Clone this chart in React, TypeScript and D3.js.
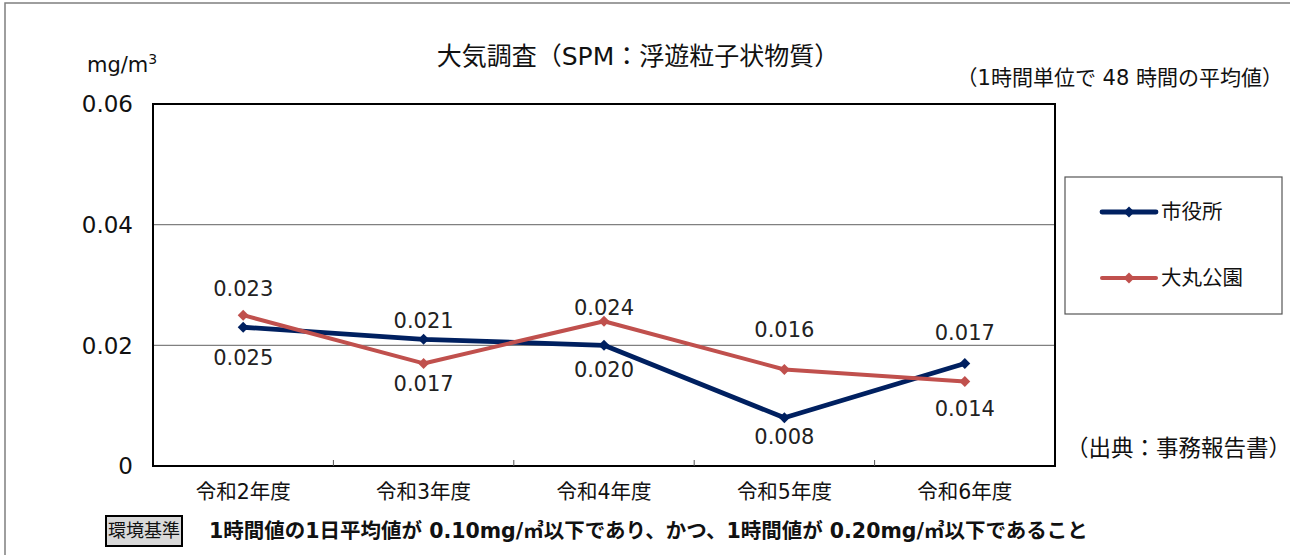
import React, { useRef, useEffect } from 'react';
import * as d3 from 'd3';

const categories = ['令和2年度', '令和3年度', '令和4年度', '令和5年度', '令和6年度'];
const cityHall = [0.023, 0.021, 0.020, 0.008, 0.017];
const omaruPark = [0.025, 0.017, 0.024, 0.016, 0.014];
const yTicks = [0, 0.02, 0.04, 0.06];
const seriesNames = ['市役所', '大丸公園'];

// label offsets (px) as placed in the original chart
const cityHallLabelDy = [-39, -19, 24, 19, -31];
const omaruParkLabelDy = [42, 20, -14, -40, 27];

const W = 1290;
const H = 555;
const FONT = '"DejaVu Sans", "Noto Sans CJK JP", sans-serif';
const CJK = '"Noto Sans CJK JP", sans-serif';

const App: React.FC = () => {
    const ref = useRef<SVGSVGElement>(null);

    useEffect(() => {
        if (!ref.current) return;
        const svg = d3.select(ref.current);
        svg.selectAll('*').remove();

        const m = { left: 153, right: 1055, top: 104, bottom: 466 };

        // outer frame
        svg.append('rect')
            .attr('x', 5).attr('y', 3)
            .attr('width', W + 20).attr('height', H + 20)
            .attr('fill', '#fff')
            .attr('stroke', '#7f7f7f')
            .attr('stroke-width', 1.5);

        const x = d3.scaleBand<string>()
            .domain(categories)
            .range([m.left, m.right]);

        const y = d3.scaleLinear()
            .domain([0, 0.06])
            .range([m.bottom, m.top]);

        const cx = (c: string) => (x(c) ?? 0) + x.bandwidth() / 2;

        // gridlines
        svg.append('g')
            .selectAll('line')
            .data(yTicks.filter(t => t > 0 && t < 0.06))
            .enter()
            .append('line')
            .attr('x1', m.left).attr('x2', m.right)
            .attr('y1', d => y(d)).attr('y2', d => y(d))
            .attr('stroke', '#808080')
            .attr('stroke-width', 1.2);

        // plot frame
        svg.append('rect')
            .attr('x', m.left).attr('y', m.top)
            .attr('width', m.right - m.left).attr('height', m.bottom - m.top)
            .attr('fill', 'none')
            .attr('stroke', '#000')
            .attr('stroke-width', 2);

        // x ticks between categories
        svg.append('g')
            .selectAll('line')
            .data(categories.slice(1))
            .enter()
            .append('line')
            .attr('x1', d => x(d) ?? 0).attr('x2', d => x(d) ?? 0)
            .attr('y1', m.bottom).attr('y2', m.bottom - 6)
            .attr('stroke', '#555')
            .attr('stroke-width', 1);

        // y tick labels
        svg.append('g')
            .selectAll('text')
            .data(yTicks)
            .enter()
            .append('text')
            .attr('x', 133)
            .attr('y', d => y(d))
            .attr('dy', '0.36em')
            .attr('text-anchor', 'end')
            .attr('font-size', 23)
            .attr('font-family', FONT)
            .attr('fill', '#111')
            .text(d => (d === 0 ? '0' : d3.format('.2f')(d)));

        // x labels
        svg.append('g')
            .selectAll('text')
            .data(categories)
            .enter()
            .append('text')
            .attr('x', d => cx(d))
            .attr('y', 492)
            .attr('dy', '0.36em')
            .attr('text-anchor', 'middle')
            .attr('font-size', 20.5)
            .attr('font-family', FONT)
            .attr('fill', '#111')
            .text(d => d);

        const series = [
            { name: seriesNames[0], values: cityHall, dy: cityHallLabelDy, color: '#002060', width: 4.8 },
            { name: seriesNames[1], values: omaruPark, dy: omaruParkLabelDy, color: '#C0504D', width: 4 },
        ];

        const line = d3.line<number>()
            .x((_, i) => cx(categories[i]))
            .y(d => y(d));

        const diamond = d3.symbol().type(d3.symbolSquare).size(60);

        series.forEach(s => {
            svg.append('path')
                .datum(s.values)
                .attr('fill', 'none')
                .attr('stroke', s.color)
                .attr('stroke-width', s.width)
                .attr('stroke-linejoin', 'round')
                .attr('d', line);

            svg.append('g')
                .selectAll('path')
                .data(s.values)
                .enter()
                .append('path')
                .attr('d', diamond)
                .attr('transform', (d, i) => `translate(${cx(categories[i])},${y(d)}) rotate(45)`)
                .attr('fill', s.color);
        });

        series.forEach(s => {
            svg.append('g')
                .selectAll('text')
                .data(s.values)
                .enter()
                .append('text')
                .attr('x', (_, i) => cx(categories[i]))
                .attr('y', (d, i) => y(d) + s.dy[i])
                .attr('dy', '0.36em')
                .attr('text-anchor', 'middle')
                .attr('font-size', 21)
                .attr('font-family', FONT)
                .attr('fill', '#222')
                .text(d => d3.format('.3f')(d));
        });

        // legend
        svg.append('rect')
            .attr('x', 1065).attr('y', 177)
            .attr('width', 217).attr('height', 137)
            .attr('fill', '#fff')
            .attr('stroke', '#555')
            .attr('stroke-width', 1.2);

        series.forEach((s, i) => {
            const ly = 212 + i * 66;
            svg.append('line')
                .attr('x1', 1102).attr('x2', 1156)
                .attr('y1', ly).attr('y2', ly)
                .attr('stroke', s.color)
                .attr('stroke-width', s.width)
                .attr('stroke-linecap', 'round');
            svg.append('path')
                .attr('d', diamond)
                .attr('transform', `translate(1129,${ly}) rotate(45)`)
                .attr('fill', s.color);
            svg.append('text')
                .attr('x', 1161).attr('y', ly)
                .attr('dy', '0.36em')
                .attr('font-size', 20.5)
                .attr('font-family', CJK)
                .attr('fill', '#111')
                .text(s.name);
        });

        // titles and notes
        svg.append('text')
            .attr('x', 638).attr('y', 56)
            .attr('dy', '0.36em')
            .attr('text-anchor', 'middle')
            .attr('font-size', 25)
            .attr('font-family', FONT)
            .attr('fill', '#111')
            .text('大気調査（SPM：浮遊粒子状物質）');

        const unit = svg.append('text')
            .attr('x', 87).attr('y', 64)
            .attr('dy', '0.36em')
            .attr('font-size', 21)
            .attr('font-family', FONT)
            .attr('fill', '#111');
        unit.append('tspan').text('mg/m');
        unit.append('tspan').attr('font-size', 14).attr('dy', -8).text('3');

        svg.append('text')
            .attr('x', 1283).attr('y', 77)
            .attr('dy', '0.36em')
            .attr('text-anchor', 'end')
            .attr('font-size', 21)
            .attr('font-family', FONT)
            .attr('fill', '#111')
            .text('（1時間単位で 48 時間の平均値）');

        svg.append('text')
            .attr('x', 1291).attr('y', 448)
            .attr('dy', '0.36em')
            .attr('text-anchor', 'end')
            .attr('font-size', 22.5)
            .attr('font-family', FONT)
            .attr('fill', '#111')
            .text('（出典：事務報告書）');

        svg.append('rect')
            .attr('x', 106).attr('y', 516)
            .attr('width', 76).attr('height', 30)
            .attr('fill', '#d9d9d9')
            .attr('stroke', '#000')
            .attr('stroke-width', 2);
        svg.append('text')
            .attr('x', 144).attr('y', 531)
            .attr('dy', '0.36em')
            .attr('text-anchor', 'middle')
            .attr('font-size', 18)
            .attr('font-family', CJK)
            .attr('fill', '#111')
            .text('環境基準');

        svg.append('text')
            .attr('x', 209).attr('y', 531)
            .attr('dy', '0.36em')
            .attr('font-size', 20.5)
            .attr('font-weight', 'bold')
            .attr('font-family', FONT)
            .attr('fill', '#111')
            .text('1時間値の1日平均値が 0.10mg/㎥以下であり、かつ、1時間値が 0.20mg/㎥以下であること');
    }, []);

    return (
        <svg
            ref={ref}
            width={W}
            height={H}
            style={{ position: 'fixed', left: 0, top: 0, background: '#fff' }}
        />
    );
};

export default App;
